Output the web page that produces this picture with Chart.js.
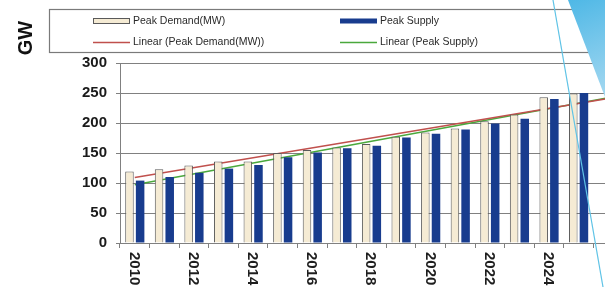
<!DOCTYPE html>
<html>
<head>
<meta charset="utf-8">
<script src="https://cdn.jsdelivr.net/npm/chart.js@4"></script>
<style>
  html, body { margin: 0; padding: 0; background: #fff; }
  body { width: 605px; height: 287px; overflow: hidden; }
</style>
</head>
<body>
<canvas id="peakChart" width="625" height="287"></canvas>
<script>
// categories (2026 is only the empty slot cut off at the right edge)
const years = ['2010', '2011', '2012', '2013', '2014', '2015', '2016', '2017', '2018',
  '2019', '2020', '2021', '2022', '2023', '2024', '2025', '2026'];
const tickLabels = ['2010', '2012', '2014', '2016', '2018', '2020', '2022', '2024'];
const yTicks = [0, 50, 100, 150, 200, 250, 300];

const peakDemand = [119, 123, 129, 136, 136, 150, 155, 159, 165, 177, 184, 191, 203, 214, 243, 249, null];
const peakSupply = [104, 110, 117, 124, 130, 143, 151, 158, 162, 176, 182, 189, 199, 207, 240, 250, null];

// trendline end points
const trendDemand = [109, null, null, null, null, null, null, null, null, null, null, null, null, null, null, null, 241];
const trendSupply = [97, null, null, null, null, null, null, null, null, null, null, null, null, null, null, null, 242];

const FONT = '"Liberation Sans", Arial, sans-serif';
const demandFill = '#f5ebd4';
const demandBorder = '#5a5a5a';
const supplyFill = '#183c8e';
const redTrend = '#c0504d';
const greenTrend = '#4aa83c';
const gridColor = '#808080';

const extras = {
  id: 'extras',
  afterDraw(chart) {
    const ctx = chart.ctx;
    const xs = chart.scales.x;
    ctx.save();

    // x labels, reading top to bottom
    ctx.fillStyle = '#1e1e1e';
    ctx.font = 'bold 15px ' + FONT;
    ctx.textAlign = 'left';
    ctx.textBaseline = 'middle';
    tickLabels.forEach(lbl => {
      const x = xs.getPixelForValue(years.indexOf(lbl));
      ctx.save();
      ctx.translate(x - 1, xs.top + 9);
      ctx.rotate(Math.PI / 2);
      ctx.fillText(lbl, 0, 0);
      ctx.restore();
    });

    // axis title
    ctx.save();
    ctx.translate(26, 38);
    ctx.rotate(-Math.PI / 2);
    ctx.font = 'bold 20px ' + FONT;
    ctx.textAlign = 'center';
    ctx.fillStyle = '#111';
    ctx.fillText('GW', 0, 0);
    ctx.restore();

    // legend box
    ctx.strokeStyle = '#7a7a7a';
    ctx.lineWidth = 1.2;
    ctx.strokeRect(49.5, 9.5, 700, 43);

    const ds = chart.data.datasets;
    const cols = [93, 340];
    const rows = [21, 42];
    ctx.font = '10.5px ' + FONT;
    ctx.fillStyle = '#2a2a2a';
    ctx.textAlign = 'left';
    ctx.textBaseline = 'middle';
    ds.forEach((d, i) => {
      const x = cols[i % 2];
      const y = rows[Math.floor(i / 2)];
      if (d.type === 'line') {
        ctx.strokeStyle = d.borderColor;
        ctx.lineWidth = 1.5;
        ctx.beginPath();
        ctx.moveTo(x, y + 0.5);
        ctx.lineTo(x + 37, y + 0.5);
        ctx.stroke();
      } else {
        ctx.fillStyle = d.backgroundColor;
        ctx.fillRect(x, y - 2.5, 37, 5);
        if (d.borderWidth) {
          ctx.strokeStyle = d.borderColor;
          ctx.lineWidth = 1;
          ctx.strokeRect(x + 0.5, y - 2.5, 36, 5);
        }
      }
      ctx.fillStyle = '#2a2a2a';
      ctx.fillText(d.label, x + 40, y);
    });

    // light blue slide decoration at the right edge
    const g = ctx.createLinearGradient(570, 0, 605, 90);
    g.addColorStop(0, '#4fb8e6');
    g.addColorStop(1, '#9fd6f0');
    ctx.fillStyle = g;
    ctx.beginPath();
    ctx.moveTo(568, 0);
    ctx.lineTo(625, 0);
    ctx.lineTo(625, 100);
    ctx.lineTo(605, 97);
    ctx.closePath();
    ctx.fill();

    ctx.strokeStyle = '#5fc3e6';
    ctx.lineWidth = 1.2;
    ctx.beginPath();
    ctx.moveTo(553, 0);
    ctx.lineTo(603, 287);
    ctx.stroke();

    ctx.restore();
  }
};

new Chart(document.getElementById('peakChart'), {
  data: {
    labels: years,
    datasets: [
      {
        type: 'bar',
        label: 'Peak Demand(MW)',
        data: peakDemand,
        backgroundColor: demandFill,
        borderColor: demandBorder,
        borderWidth: 1,
        categoryPercentage: 0.72,
        barPercentage: 0.8,
        order: 1
      },
      {
        type: 'bar',
        label: 'Peak Supply',
        data: peakSupply,
        backgroundColor: supplyFill,
        borderWidth: 0,
        categoryPercentage: 0.72,
        barPercentage: 0.8,
        order: 1
      },
      {
        type: 'line',
        label: 'Linear (Peak Demand(MW))',
        data: trendDemand,
        borderColor: redTrend,
        borderWidth: 1.5,
        pointRadius: 0,
        spanGaps: true,
        fill: false,
        order: 2
      },
      {
        type: 'line',
        label: 'Linear (Peak Supply)',
        data: trendSupply,
        borderColor: greenTrend,
        borderWidth: 1.5,
        pointRadius: 0,
        spanGaps: true,
        fill: false,
        order: 2
      }
    ]
  },
  options: {
    responsive: false,
    animation: false,
    layout: { padding: { top: 63, right: 2, left: 0, bottom: 0 } },
    plugins: {
      legend: { display: false },
      tooltip: { enabled: false }
    },
    scales: {
      x: {
        offset: true,
        grid: {
          offset: true,
          drawOnChartArea: false,
          drawTicks: true,
          tickLength: 5,
          color: gridColor
        },
        border: { color: gridColor },
        ticks: { display: false },
        afterFit(scale) { scale.height = 44; }
      },
      y: {
        min: 0,
        max: 300,
        afterBuildTicks(scale) { scale.ticks = yTicks.map(v => ({ value: v })); },
        grid: {
          color: gridColor,
          tickLength: 4,
          lineWidth: 1
        },
        border: { color: gridColor },
        ticks: {
          color: '#1a1a1a',
          padding: 9,
          font: { family: FONT, size: 15, weight: 'bold' }
        },
        afterFit(scale) { scale.width = 120; }
      }
    }
  },
  plugins: [extras]
});
</script>
</body>
</html>
